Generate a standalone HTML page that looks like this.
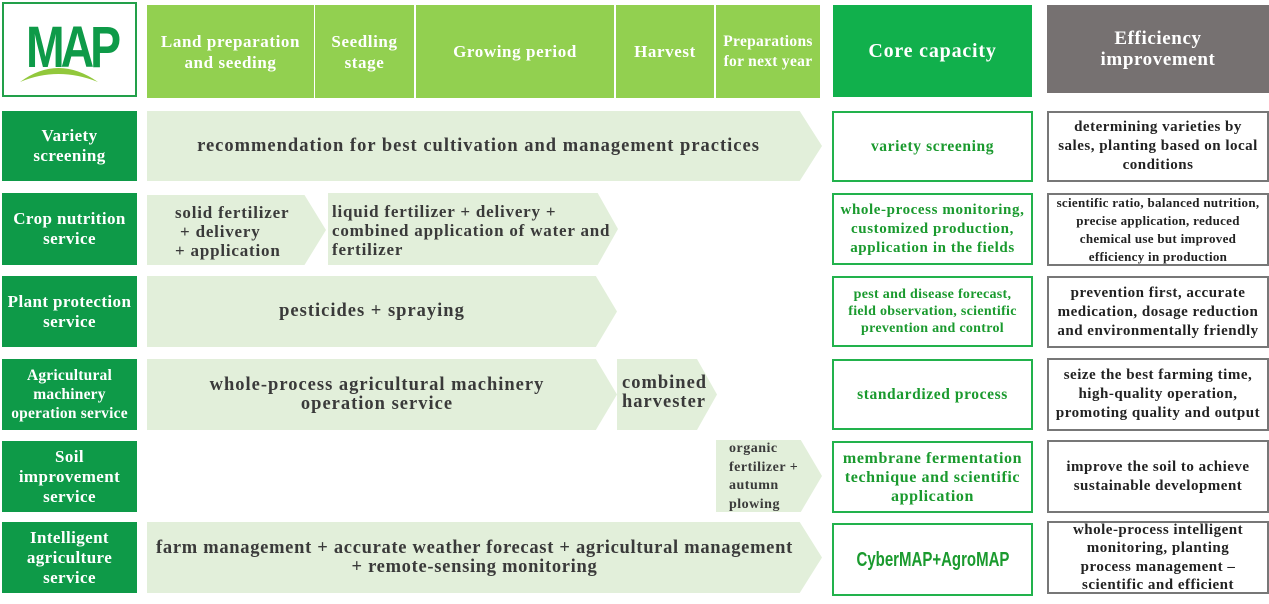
<!DOCTYPE html>
<html><head><meta charset="utf-8"><style>
body{margin:0;width:1269px;height:604px;background:#fff;position:relative;overflow:hidden;font-family:"Liberation Serif",serif;font-weight:bold}
div{position:absolute;box-sizing:border-box}
.c{display:flex;align-items:center;justify-content:center;text-align:center}
.h{background:#92d050;color:#fff;font-size:17px;line-height:21px;letter-spacing:0.6px}
.l{background:#0e9a48;color:#fff;font-size:17px;line-height:20px;left:2px;width:135px;letter-spacing:0.4px}
.a{background:#e2efda;color:#3a3a3a;font-size:18.5px;line-height:19px;letter-spacing:1px}
.core{left:832px;width:201px;border:2px solid #22b24c;color:#1a9a2e;font-size:15.5px;line-height:18px;letter-spacing:0.6px}
.eff{left:1047px;width:222px;border:2px solid #777;color:#222;font-size:15px;line-height:19px;letter-spacing:0.5px}
</style></head><body>
<div style="left:2px;top:2px;width:135px;height:95px;border:2px solid #22a04a"></div>
<div style="left:26px;top:18px;font-family:'Liberation Sans',sans-serif;font-size:58px;line-height:60px;color:#0e9a48;letter-spacing:-5px;transform:scaleX(.8);transform-origin:left">MAP</div>
<svg style="position:absolute;left:18px;top:58px" width="82" height="26"><path d="M2 24 Q40 -4 80 24 Q40 8 2 24Z" fill="#92c83c"/></svg>
<div class="h c" style="left:147px;top:5px;width:167px;height:93px">Land preparation<br>and seeding</div>
<div class="h c" style="left:315px;top:5px;width:99px;height:93px">Seedling<br>stage</div>
<div class="h c" style="left:416px;top:5px;width:198px;height:93px">Growing period</div>
<div class="h c" style="left:616px;top:5px;width:98px;height:93px">Harvest</div>
<div class="h c" style="left:716px;top:5px;width:104px;height:93px;font-size:15.5px;line-height:20px;letter-spacing:0.3px">Preparations<br>for next year</div>
<div class="c" style="left:833px;top:5px;width:199px;height:92px;background:#11b04c;color:#fff;font-size:20px;letter-spacing:0.8px">Core capacity</div>
<div class="c" style="left:1047px;top:5px;width:222px;height:88px;background:#767171;color:#fff;font-size:19px;line-height:21px;letter-spacing:0.6px">Efficiency<br>improvement</div>

<div class="l c" style="top:111px;height:70px">Variety<br>screening</div>
<div class="l c" style="top:193px;height:72px">Crop nutrition<br>service</div>
<div class="l c" style="top:276px;height:71px">Plant protection<br>service</div>
<div class="l c" style="top:359px;height:71px;font-size:15.5px;line-height:19px;letter-spacing:0.2px">Agricultural<br>machinery<br>operation service</div>
<div class="l c" style="top:441px;height:71px">Soil<br>improvement<br>service</div>
<div class="l c" style="top:522px;height:71px">Intelligent<br>agriculture<br>service</div>

<div class="a c" style="left:147px;top:111px;width:675px;height:70px;clip-path:polygon(0 0,96.7% 0,100% 50%,96.7% 100%,0 100%);padding-right:12px">recommendation for best cultivation and management practices</div>
<div class="a" style="left:147px;top:195px;width:179px;height:70px;clip-path:polygon(0 0,88% 0,100% 50%,88% 100%,0 100%);padding:8px 0 0 28px;font-size:17px;letter-spacing:0.8px">solid fertilizer<br>&nbsp;+ delivery<br>+ application</div>
<div class="a" style="left:328px;top:193px;width:290px;height:72px;clip-path:polygon(0 0,93% 0,100% 50%,93% 100%,0 100%);padding:9px 0 0 4px;font-size:17px;letter-spacing:0.8px;white-space:nowrap">liquid fertilizer + delivery +<br>combined application of water and<br>fertilizer</div>
<div class="a c" style="left:147px;top:276px;width:470px;height:71px;clip-path:polygon(0 0,95.5% 0,100% 50%,95.5% 100%,0 100%);padding-right:20px">pesticides + spraying</div>
<div class="a c" style="left:147px;top:359px;width:470px;height:71px;clip-path:polygon(0 0,95.5% 0,100% 50%,95.5% 100%,0 100%);padding-right:10px">whole-process agricultural machinery<br>operation service</div>
<div class="a" style="left:617px;top:359px;width:100px;height:71px;clip-path:polygon(0 0,80% 0,100% 50%,80% 100%,0 100%);padding:15px 0 0 5px;white-space:nowrap">combined<br>harvester</div>
<div class="a" style="left:716px;top:440px;width:106px;height:72px;clip-path:polygon(0 0,80% 0,100% 50%,80% 100%,0 100%);padding:0 0 0 13px;font-size:14px;line-height:18.5px;letter-spacing:0.5px;white-space:nowrap">organic<br>fertilizer +<br>autumn<br>plowing</div>
<div class="a c" style="left:147px;top:522px;width:675px;height:71px;clip-path:polygon(0 0,96.7% 0,100% 50%,96.7% 100%,0 100%);padding-right:20px;white-space:nowrap;letter-spacing:0.7px">farm management + accurate weather forecast + agricultural management<br>+ remote-sensing monitoring</div>

<div class="core c" style="top:111px;height:71px">variety screening</div>
<div class="core c" style="top:193px;height:72px;font-size:15px;line-height:19px;white-space:nowrap">whole-process monitoring,<br>customized production,<br>application in the fields</div>
<div class="core c" style="top:276px;height:71px;font-size:14px;line-height:17px;letter-spacing:0.3px;white-space:nowrap">pest and disease forecast,<br>field observation, scientific<br>prevention and control</div>
<div class="core c" style="top:359px;height:71px">standardized process</div>
<div class="core c" style="top:441px;height:72px;font-size:16px;line-height:19px;white-space:nowrap">membrane fermentation<br>technique and scientific<br>application</div>
<div class="core c" style="top:523px;height:73px;font-family:'Liberation Sans',sans-serif;font-size:20px;letter-spacing:0"><span style="display:inline-block;transform:scaleX(.75)">CyberMAP+AgroMAP</span></div>

<div class="eff c" style="top:111px;height:71px;white-space:nowrap">determining varieties by<br>sales, planting based on local<br>conditions</div>
<div class="eff c" style="top:193px;height:73px;font-size:13px;line-height:18px;letter-spacing:0.3px;white-space:nowrap">scientific ratio, balanced nutrition,<br>precise application, reduced<br>chemical use but improved<br>efficiency in production</div>
<div class="eff c" style="top:276px;height:72px;white-space:nowrap">prevention first, accurate<br>medication, dosage reduction<br>and environmentally friendly</div>
<div class="eff c" style="top:358px;height:73px;white-space:nowrap">seize the best farming time,<br>high-quality operation,<br>promoting quality and output</div>
<div class="eff c" style="top:440px;height:73px;white-space:nowrap">improve the soil to achieve<br>sustainable development</div>
<div class="eff c" style="top:521px;height:73px;white-space:nowrap;line-height:18.5px">whole-process intelligent<br>monitoring, planting<br>process management –<br>scientific and efficient</div>
</body></html>
